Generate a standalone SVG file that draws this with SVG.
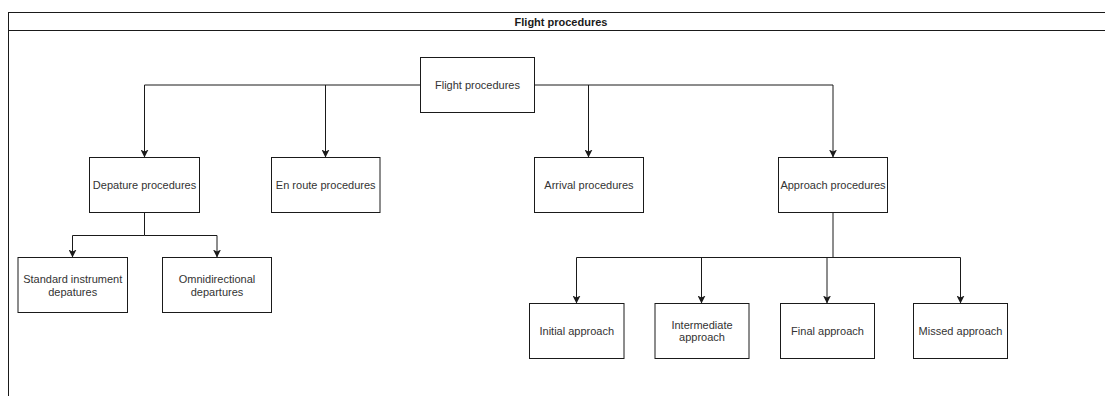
<svg xmlns="http://www.w3.org/2000/svg" width="1105" height="396" viewBox="0 0 1105 396">
  <style>
    .box { fill: #ffffff; stroke: #1a1a1a; stroke-width: 1; }
    .lbl { font-family: "Liberation Sans", Arial, sans-serif; font-size: 11px; fill: #333333; text-anchor: middle; }
    .title { font-family: "Liberation Sans", Arial, sans-serif; font-size: 11px; font-weight: bold; fill: #1a1a1a; text-anchor: middle; }
    .edge { fill: none; stroke: #1a1a1a; stroke-width: 1; }
    .arrow { fill: none; stroke: #1a1a1a; stroke-width: 1; marker-end: url(#head); }
  </style>
  <defs>
    <marker id="head" viewBox="0 0 8 8" refX="8" refY="4" markerWidth="8" markerHeight="8" markerUnits="userSpaceOnUse" orient="auto">
      <path d="M0,0 L8,4 L0,8 L2,4 Z" fill="#1a1a1a"/>
    </marker>
  </defs>

  <rect width="1105" height="396" fill="#ffffff"/>

  <!-- swimlane frame with header -->
  <g id="frame">
    <rect x="8.5" y="12.5" width="1110" height="400" fill="none" stroke="#1a1a1a" stroke-width="1"/>
    <line x1="8.5" y1="30.5" x2="1110" y2="30.5" stroke="#1a1a1a" stroke-width="1"/>
    <text class="title" x="561" y="25.5">Flight procedures</text>
  </g>

  <!-- connectors -->
  <g id="connectors">
    <path class="arrow" d="M420.5,85 H144.5 V157.5"/>
    <path class="arrow" d="M325.5,85 V157.5"/>
    <path class="arrow" d="M534.5,85 H833 V157.5"/>
    <path class="arrow" d="M588.5,85 V157.5"/>

    <path class="edge" d="M144.5,212.5 V235.5"/>
    <path class="arrow" d="M144.5,235.5 H72.5 V257.5"/>
    <path class="arrow" d="M144.5,235.5 H217 V257.5"/>

    <path class="edge" d="M833,212.5 V257.5"/>
    <path class="arrow" d="M833,257.5 H576.5 V303.5"/>
    <path class="arrow" d="M701.5,257.5 V303.5"/>
    <path class="arrow" d="M833,257.5 H960.5 V303.5"/>
    <path class="arrow" d="M827,257.5 V303.5"/>
  </g>

  <!-- nodes -->
  <g id="root">
    <rect class="box" x="420.5" y="57.5" width="114" height="55"/>
    <text class="lbl" x="477.5" y="89">Flight procedures</text>
  </g>
  <g id="departure">
    <rect class="box" x="89.5" y="157.5" width="110" height="55"/>
    <text class="lbl" x="144.5" y="189">Depature procedures</text>
  </g>
  <g id="enroute">
    <rect class="box" x="271.5" y="157.5" width="108.5" height="55"/>
    <text class="lbl" x="325.7" y="189">En route procedures</text>
  </g>
  <g id="arrival">
    <rect class="box" x="534.5" y="157.5" width="109" height="55"/>
    <text class="lbl" x="589" y="189">Arrival procedures</text>
  </g>
  <g id="approach">
    <rect class="box" x="778.5" y="157.5" width="109" height="55"/>
    <text class="lbl" x="833" y="189">Approach procedures</text>
  </g>
  <g id="sid">
    <rect class="box" x="18" y="257.5" width="109.5" height="55"/>
    <text class="lbl" x="72.7" y="283">Standard instrument</text>
    <text class="lbl" x="72.7" y="296.3">depatures</text>
  </g>
  <g id="omni">
    <rect class="box" x="162.5" y="257.5" width="109" height="55"/>
    <text class="lbl" x="217" y="283">Omnidirectional</text>
    <text class="lbl" x="217" y="296.3">departures</text>
  </g>
  <g id="initial">
    <rect class="box" x="529.5" y="303.5" width="94.5" height="55"/>
    <text class="lbl" x="576.8" y="335">Initial approach</text>
  </g>
  <g id="intermediate">
    <rect class="box" x="655" y="303.5" width="94" height="55"/>
    <text class="lbl" x="702" y="328.7">Intermediate</text>
    <text class="lbl" x="702" y="341.3">approach</text>
  </g>
  <g id="final">
    <rect class="box" x="780.5" y="303.5" width="94" height="55"/>
    <text class="lbl" x="827.5" y="335">Final approach</text>
  </g>
  <g id="missed">
    <rect class="box" x="913.5" y="303.5" width="94" height="55"/>
    <text class="lbl" x="960.5" y="335">Missed approach</text>
  </g>
</svg>
